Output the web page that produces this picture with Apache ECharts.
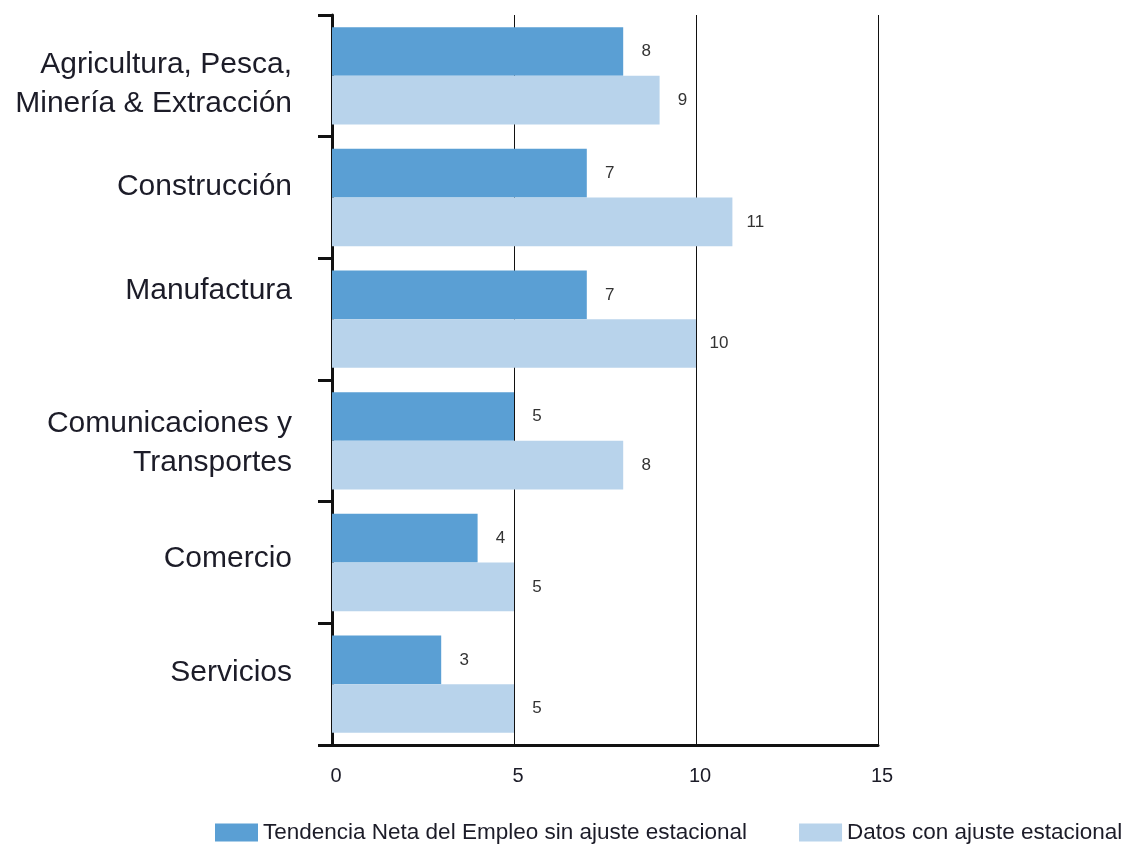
<!DOCTYPE html>
<html><head><meta charset="utf-8">
<script src="https://cdn.jsdelivr.net/npm/echarts@6/dist/echarts.min.js"></script>
<style>html,body{margin:0;padding:0;background:#fff}#c{width:1128px;height:848px}</style>
</head><body><div id="c"></div>
<script>
const categories = ['Agricultura, Pesca,\nMinería & Extracción','Construcción','Manufactura','Comunicaciones y\nTransportes','Comercio','Servicios'];
const seriesNames = ['Tendencia Neta del Empleo sin ajuste estacional','Datos con ajuste estacional'];
const sinAjuste = [8,7,7,5,4,3];
const conAjuste = [9,11,10,8,5,5];
const xTicks = [0,5,10,15];

// style: vertical nudge (px) of each category label, as placed in the original
const labelShift = [8,-11,-28,2,-4,-11];

const font = 'Liberation Sans';
const catSize = 30, catLH = 39, txtColor = '#1c1c28';
const rich = { n:{fontSize:catSize,lineHeight:catLH,color:txtColor,fontFamily:font} };
labelShift.forEach((s,i)=>{
  const a = Math.abs(s);
  rich['t'+i] = {fontSize:catSize,lineHeight:catLH+2*a,color:txtColor,fontFamily:font,
    padding: s>0 ? [2*a,0,0,0] : [0,0,2*a,0]};
});
function catFormatter(v,i){
  const lines = v.split('\n');
  const s = labelShift[i];
  return lines.map((l,k)=>{
    const tagged = (s>0 && k===0) || (s<0 && k===lines.length-1);
    return '{'+(tagged?'t'+i:'n')+'|'+l+'}';
  }).join('\n');
}

const barLabel = {show:true,position:'right',distance:23,align:'center',fontSize:17,color:'#333',fontFamily:font};

const chart = echarts.init(document.getElementById('c'));
chart.setOption({
  animation:false,
  textStyle:{fontFamily:font},
  grid:{left:332,right:250,top:15,bottom:103,containLabel:false},
  xAxis:{type:'value',min:xTicks[0],max:xTicks[xTicks.length-1],interval:5,
    axisLine:{show:true,lineStyle:{color:'#111',width:3}},
    axisTick:{show:false},
    axisLabel:{fontSize:20,color:txtColor,margin:21,fontFamily:font,padding:[0,0,0,8]},
    splitLine:{show:true,lineStyle:{color:'#111',width:1}}},
  yAxis:{type:'category',data:categories,inverse:true,
    axisLine:{show:true,lineStyle:{color:'#111',width:3}},
    axisTick:{show:true,length:14,lineStyle:{color:'#111',width:3}},
    axisLabel:{fontSize:catSize,color:txtColor,margin:40,lineHeight:catLH,align:'right',fontFamily:font,
      formatter:catFormatter,rich:rich}},
  legend:{top:816,left:210,itemWidth:43,itemHeight:18,itemGap:52,icon:'rect',
    textStyle:{fontSize:22.5,color:txtColor,fontFamily:font},data:seriesNames},
  series:[
    {name:seriesNames[0],type:'bar',data:sinAjuste,barGap:'0%',barCategoryGap:'20%',
     itemStyle:{color:'#5A9FD4'},label:barLabel},
    {name:seriesNames[1],type:'bar',data:conAjuste,barGap:'0%',barCategoryGap:'20%',
     itemStyle:{color:'#B8D3EB'},label:barLabel}
  ]
});
</script></body></html>
